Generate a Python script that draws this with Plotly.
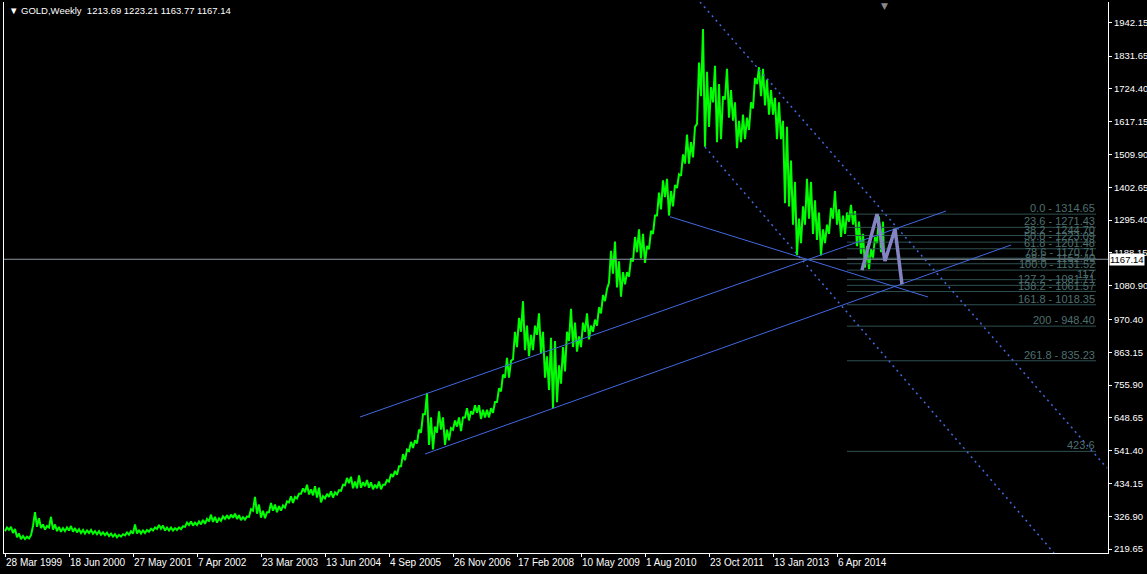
import plotly.graph_objects as go

# x axis is bar index (one weekly bar per pixel, as in the terminal)
tick_bars = [0, 64, 128, 192, 256, 320, 384, 448, 512, 576, 640, 704, 768, 832]
tick_labels = ["28 Mar 1999", "18 Jun 2000", "27 May 2001", "7 Apr 2002", "23 Mar 2003",
               "13 Jun 2004", "4 Sep 2005", "26 Nov 2006", "17 Feb 2008", "10 May 2009",
               "1 Aug 2010", "23 Oct 2011", "13 Jan 2013", "6 Apr 2014"]
price_ticks = [219.65, 326.90, 434.15, 541.40, 648.65, 755.90, 863.15, 970.40, 1080.90,
               1188.15, 1295.40, 1402.65, 1509.90, 1617.15, 1724.40, 1831.65, 1942.15]

# price swings, sampled every 4 bars: low then high
step = 4
lows = [278, 282, 272, 258, 252, 252, 254, 295, 292, 288,
        283, 290, 283, 278, 276, 278, 280, 276, 274, 272,
        270, 272, 270, 268, 266, 265, 262, 260, 258, 260,
        264, 266, 270, 270, 270, 272, 276, 280, 285, 286,
        280, 280, 280, 282, 284, 292, 298, 296, 298, 300,
        302, 310, 308, 306, 312, 318, 318, 322, 318, 314,
        316, 325, 345, 335, 322, 320, 340, 345, 340, 345,
        355, 372, 370, 385, 400, 405, 398, 395, 388, 372,
        385, 390, 388, 398, 410, 428, 435, 418, 418, 420,
        425, 420, 415, 418, 415, 430, 440, 455, 462, 490,
        510, 540, 550, 565, 600, 660, 560, 545, 600, 610,
        560, 575, 610, 620, 605, 650, 640, 660, 665, 645,
        650, 650, 665, 700, 735, 780, 780, 840, 880, 930,
        870, 850, 870, 920, 860, 780, 740, 680, 700, 760,
        800, 900, 880, 865, 880, 930, 905, 930, 950, 990,
        1030, 1090, 1120, 1075, 1045, 1085, 1110, 1160, 1190, 1170,
        1155, 1200, 1250, 1310, 1330, 1370, 1310, 1340, 1400, 1440,
        1480, 1480, 1500, 1610, 1700, 1535, 1600, 1680, 1550, 1560,
        1690, 1630, 1620, 1530, 1550, 1560, 1590, 1660, 1740, 1700,
        1670, 1640, 1640, 1560, 1560, 1350, 1340, 1280, 1180, 1220,
        1280, 1300, 1250, 1230, 1180, 1220, 1250, 1300, 1280, 1240,
        1250, 1290, 1280, 1210, 1185, 1140, 1135, 1170, 1220, 1190]
highs = [290, 292, 285, 270, 262, 260, 265, 340, 320, 300,
         295, 325, 300, 292, 288, 290, 295, 288, 284, 282,
         280, 282, 278, 278, 274, 273, 270, 268, 266, 268,
         274, 278, 300, 282, 280, 282, 286, 290, 298, 296,
         290, 290, 288, 290, 294, 306, 310, 306, 310, 315,
         318, 332, 325, 320, 326, 330, 332, 335, 330, 324,
         326, 350, 390, 365, 345, 340, 370, 365, 360, 362,
         375, 392, 390, 400, 418, 430, 415, 425, 420, 392,
         400, 408, 405, 412, 430, 452, 456, 440, 460, 438,
         445, 438, 430, 440, 430, 445, 465, 475, 490, 530,
         545, 570, 575, 610, 660, 730, 650, 620, 670, 650,
         610, 615, 640, 650, 650, 680, 670, 690, 690, 675,
         675, 680, 700, 745, 790, 845, 835, 930, 975, 1030,
         950, 920, 950, 990, 930, 850, 910, 900, 820, 880,
         930, 1005, 960, 915, 960, 990, 950, 970, 1010, 1050,
         1070, 1195, 1225, 1160, 1125, 1125, 1170, 1240, 1265, 1250,
         1210, 1260, 1310, 1385, 1425, 1430, 1390, 1410, 1445, 1510,
         1575, 1550, 1600, 1810, 1920, 1780, 1730, 1800, 1740, 1700,
         1790, 1720, 1680, 1620, 1640, 1630, 1680, 1760, 1795, 1790,
         1755, 1720, 1695, 1680, 1620, 1600, 1490, 1420, 1300, 1340,
         1430, 1420, 1360, 1320, 1265, 1280, 1335, 1390, 1330, 1310,
         1320, 1345, 1325, 1290, 1250, 1210, 1200, 1240, 1307, 1290]
last_bar = 879
last_ohlc = [1213.69, 1223.21, 1163.77, 1167.14]

# drawn objects (bar, price)
channel_up = [(355, 651.3), (941, 1324.9)]
channel_low = [(420, 530.3), (1006, 1213.7)]
fan_line = [(665, 1306.3), (923, 1043.7)]
dot_line_1 = [(695, 2008.3), (1102, 484.5)]
dot_line_2 = [(700, 1534.2), (1049, 206.6)]
pattern = [(857, 1131.52), (872, 1314.65), (880, 1161.4), (890, 1266.1), (897, 1085.0)]

fib_high = 1314.65
fib_low = 1131.52
fib_levels = [0.0, 23.6, 38.2, 50.0, 61.8, 78.6, 88.6, 100.0, 117.0, 127.2, 138.2, 161.8, 200.0, 261.8, 423.6]
fib_texts = ["0.0 - 1314.65", "23.6 - 1271.43", "38.2 - 1244.70", "50.0 - 1223.09", "61.8 - 1201.48",
             "78.6 - 1170.71", "88.6 - 1152.40", "100.0 - 1131.52", "117", "127.2 - 1081.71",
             "138.2 - 1061.57", "161.8 - 1018.35", "200 - 948.40", "261.8 - 835.23", "423.6"]
fib_x0, fib_x1 = 842, 1091

FONT = "Liberation Sans"
BLUE = "#4169E1"

px, py = [], []
for i, (lo, hi) in enumerate(zip(lows, highs)):
    px += [i * step, i * step + 2]
    py += [lo, hi]
px.append(last_bar)
py.append(last_ohlc[3])

fig = go.Figure()
fig.add_trace(go.Scatter(x=px, y=py, mode="lines", line=dict(color="#00FF00", width=2),
                         hoverinfo="skip"))

fx, fy = [], []
for lvl in fib_levels:
    p = fib_high - lvl / 100 * (fib_high - fib_low)
    fx += [fib_x0, fib_x1, None]
    fy += [p, p, None]
fig.add_trace(go.Scatter(x=fx, y=fy, mode="lines", line=dict(color="#2F4F4F", width=1)))

fig.add_trace(go.Scatter(x=[-1, 1103], y=[last_ohlc[3]] * 2, mode="lines",
                         line=dict(color="#8C96A0", width=1)))

for seg in (channel_up, channel_low, fan_line):
    fig.add_trace(go.Scatter(x=[p[0] for p in seg], y=[p[1] for p in seg], mode="lines",
                             line=dict(color=BLUE, width=1)))
for seg in (dot_line_1, dot_line_2):
    fig.add_trace(go.Scatter(x=[p[0] for p in seg], y=[p[1] for p in seg], mode="lines",
                             line=dict(color=BLUE, width=1.5, dash="2px,4px")))

fig.add_trace(go.Scatter(x=[p[0] for p in pattern], y=[p[1] for p in pattern], mode="lines",
                         line=dict(color="#8484C4", width=3.5)))

for lvl, txt in zip(fib_levels, fib_texts):
    p = fib_high - lvl / 100 * (fib_high - fib_low)
    fig.add_annotation(x=fib_x1, y=p, text=txt, showarrow=False, xanchor="right", yanchor="bottom",
                       font=dict(family=FONT, size=11, color="#4F7070"), borderpad=0, yshift=-1)

fig.add_annotation(xref="paper", x=0, y=1, yref="paper", xanchor="left", yanchor="top",
                   text="\u25bc GOLD,Weekly\u00a0\u00a0" + " ".join(f"{v:.2f}" for v in last_ohlc),
                   showarrow=False, font=dict(family=FONT, size=9.5, color="white"),
                   xshift=3, yshift=-1)
fig.add_annotation(xref="paper", x=1, y=last_ohlc[3], xanchor="left", text=f"{last_ohlc[3]:.2f}",
                   showarrow=False, bgcolor="white", font=dict(family=FONT, size=9.5, color="black"),
                   borderpad=0, xshift=1)
fig.add_annotation(x=last_bar, y=1, yref="paper", yanchor="top", text="\u25bc", showarrow=False,
                   font=dict(family="DejaVu Sans", size=9, color="#8a8a8a"), yshift=3)

fig.update_xaxes(range=[-1, 1103], tickvals=tick_bars, ticktext=tick_labels, ticks="outside",
                 ticklen=3, tickcolor="white", showline=True, linecolor="white", showgrid=False,
                 zeroline=False, ticklabelposition="outside right", automargin=False, tickangle=0,
                 tickfont=dict(family=FONT, size=10, color="white"))
fig.update_yaxes(range=[206.57, 2008.34], side="right", tickvals=price_ticks,
                 ticktext=[f"{v:.2f}" for v in price_ticks], ticks="outside", ticklen=3,
                 tickcolor="white", showline=True, mirror=True, linecolor="white",
                 showgrid=False, zeroline=False, automargin=False,
                 tickfont=dict(family=FONT, size=9.5, color="white"))
fig.update_layout(width=1147, height=574, paper_bgcolor="black", plot_bgcolor="black",
                  showlegend=False, margin=dict(l=4, r=39, t=2, b=21))
fig.write_html("out.html", config={"displayModeBar": False},
               post_script="document.body.style.margin='0';document.body.style.overflow='hidden';")
